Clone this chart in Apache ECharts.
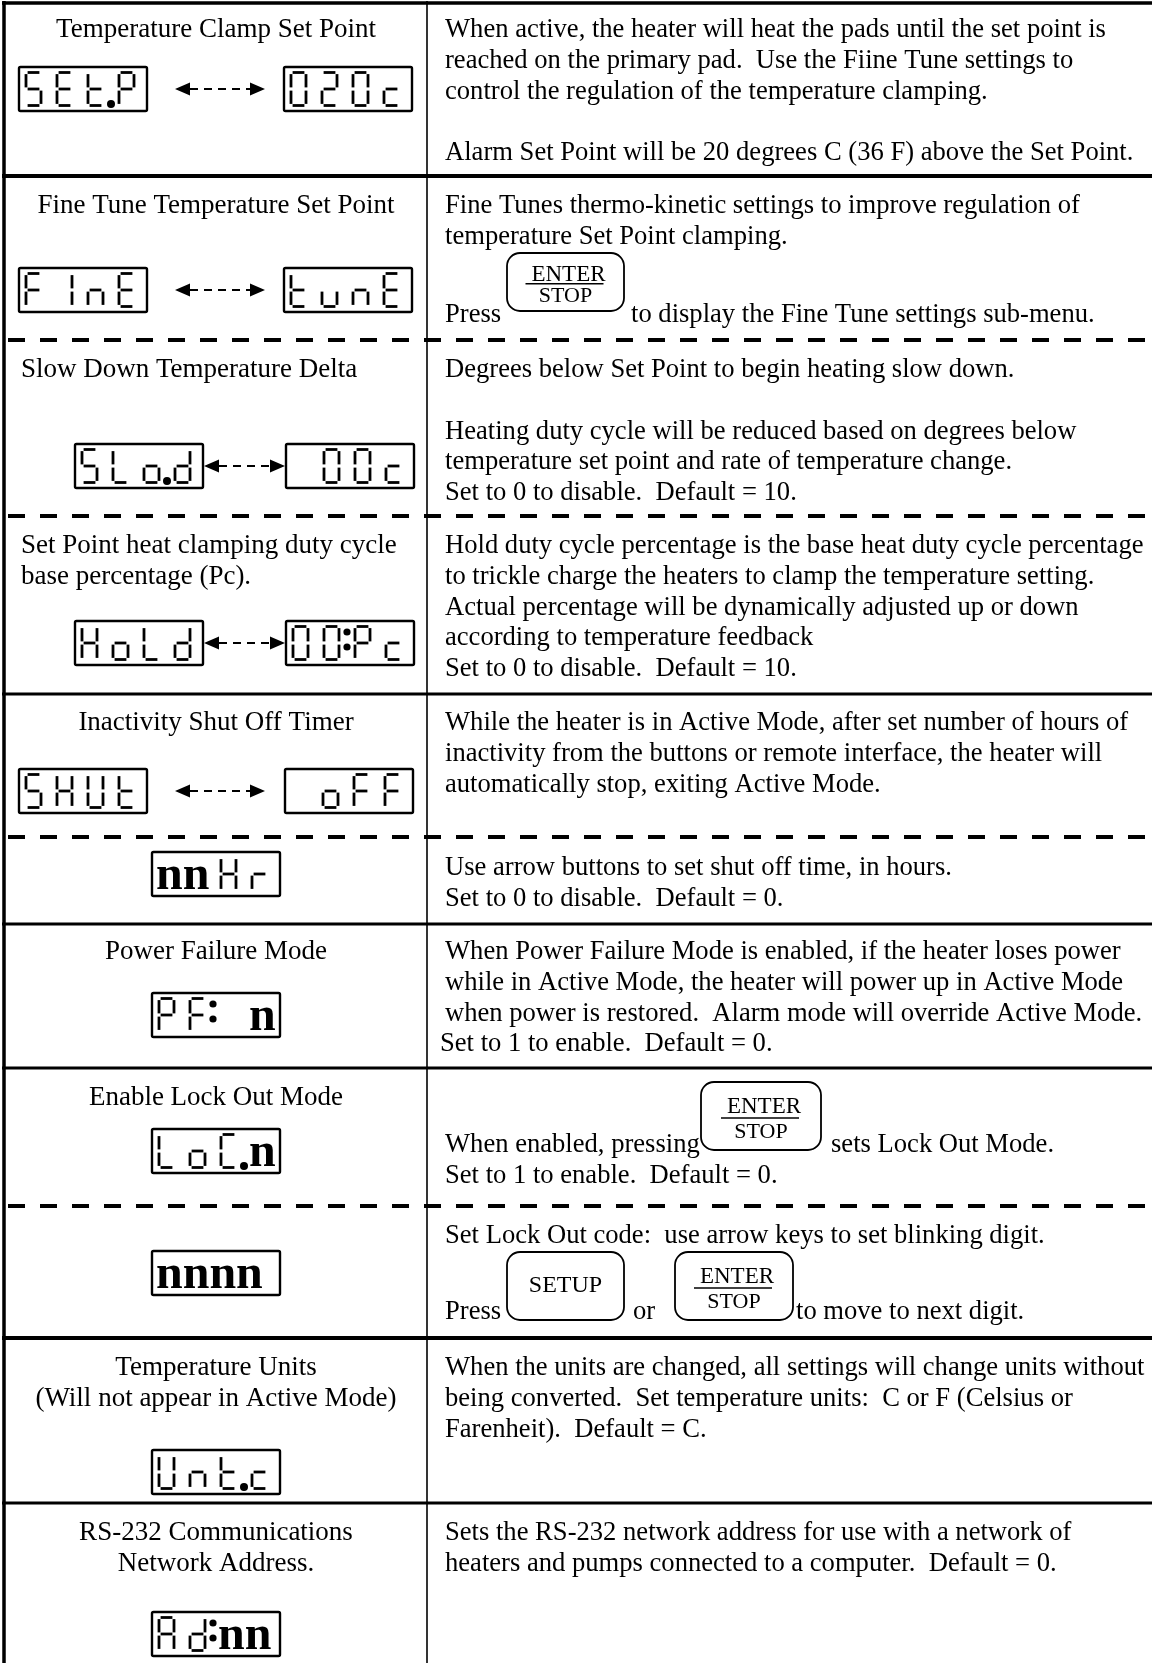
<!DOCTYPE html>
<html><head><meta charset="utf-8">
<script src="https://cdn.jsdelivr.net/npm/echarts@6/dist/echarts.min.js"></script>
<style>html,body{margin:0;padding:0;background:#fff}#c{width:1152px;height:1663px}</style>
</head><body><div id="c"></div>
<script>
// ---------------- content ----------------
const leftTitles = [
  ['Temperature Clamp Set Point'],
  ['Fine Tune Temperature Set Point'],
  ['Slow Down Temperature Delta'],
  ['Set Point heat clamping duty cycle', 'base percentage (Pc).'],
  ['Inactivity Shut Off Timer'],
  [],
  ['Power Failure Mode'],
  ['Enable Lock Out Mode'],
  [],
  ['Temperature Units', '(Will not appear in Active Mode)'],
  ['RS-232 Communications', 'Network Address.']
];
const rightTexts = [
  ['When active, the heater will heat the pads until the set point is',
   'reached on the primary pad.  Use the Fiine Tune settings to',
   'control the regulation of the temperature clamping.', '',
   'Alarm Set Point will be 20 degrees C (36 F) above the Set Point.'],
  ['Fine Tunes thermo-kinetic settings to improve regulation of',
   'temperature Set Point clamping.'],
  ['Degrees below Set Point to begin heating slow down.', '',
   'Heating duty cycle will be reduced based on degrees below',
   'temperature set point and rate of temperature change.',
   'Set to 0 to disable.  Default = 10.'],
  ['Hold duty cycle percentage is the base heat duty cycle percentage',
   'to trickle charge the heaters to clamp the temperature setting.',
   'Actual percentage will be dynamically adjusted up or down',
   'according to temperature feedback',
   'Set to 0 to disable.  Default = 10.'],
  ['While the heater is in Active Mode, after set number of hours of',
   'inactivity from the buttons or remote interface, the heater will',
   'automatically stop, exiting Active Mode.'],
  ['Use arrow buttons to set shut off time, in hours.',
   'Set to 0 to disable.  Default = 0.'],
  ['When Power Failure Mode is enabled, if the heater loses power',
   'while in Active Mode, the heater will power up in Active Mode',
   'when power is restored.  Alarm mode will override Active Mode.'],
  [],
  ['Set Lock Out code:  use arrow keys to set blinking digit.'],
  ['When the units are changed, all settings will change units without',
   'being converted.  Set temperature units:  C or F (Celsius or',
   'Farenheit).  Default = C.'],
  ['Sets the RS-232 network address for use with a network of',
   'heaters and pumps connected to a computer.  Default = 0.']
];
// free-standing lines (some with buttons between the pieces)
const inlineTexts = [
  ['Press', 'to display the Fine Tune settings sub-menu.'],
  ['Set to 1 to enable.  Default = 0.'],
  ['When enabled, pressing', 'sets Lock Out Mode.'],
  ['Set to 1 to enable.  Default = 0.'],
  ['Press', 'or', 'to move to next digit.']
];
const buttonLabels = [
  ['ENTER', 'STOP'],   // row 2
  ['ENTER', 'STOP'],   // row 8
  ['SETUP'],           // row 9
  ['ENTER', 'STOP']    // row 9
];
// display codes per row: first box, optional second box
// '_' blank cell, '.' decimal point, ':' colon after cell, '*' bold glyph text
const displayCodes = [
  [['S', 'E', 't.', 'P'], ['0', '2', '0', 'c']],
  [['F', 'I', 'n', 'E'], ['t', 'u', 'n', 'E']],
  [['S', 'L', 'o.', 'd'], ['_', '0', '0', 'c']],
  [['H', 'o', 'L', 'd'], ['0', '0:', 'P', 'c']],
  [['S', 'H', 'U', 't'], ['_', 'o', 'F', 'F']],
  [['*nn', 'H', 'r']],
  [['P', 'F:', '_', '*n']],
  [['L', 'o', 'C.', '*n']],
  [['*nnnn']],
  [['U', 'n', 't.', 'c']],
  [['A', 'd:', '*nn']]
];
// seven-segment glyph table
const SEGMENTS = {
  '0': 'abcdef', '2': 'abdeg', 'S': 'acdfg', 'E': 'adefg', 't': 'defg', 'P': 'abefg',
  'c': 'deg', 'F': 'aefg', 'I': 'bc', 'n': 'ceg', 'u': 'cde', 'L': 'def', 'o': 'cdeg',
  'd': 'bcdeg', 'H': 'bcefg', 'U': 'bcdef', 'r': 'eg', 'A': 'abcefg', 'C': 'adef'
};

// ---------------- layout ----------------
const W = 1152;
const COL_X = 427;
const LEFT_X = 4;
const RIGHT_TX = 445;
const LINE_H = 30.8;
const rowRules = [ // y, kind, width
  [3, 'solid', 3.5], [176, 'solid', 4], [340, 'dash', 4], [516, 'dash', 4], [694, 'solid', 3],
  [837, 'dash', 4], [924, 'solid', 3], [1068, 'solid', 3], [1206, 'dash', 4],
  [1338, 'solid', 4], [1503, 'solid', 3]
];
const titleY = [30, 206, 370, 546, 723, null, 952, 1098, null, 1368, 1533];
const titleAlign = ['center', 'center', 'left', 'left', 'center', 'center', 'center', 'center', 'center', 'center', 'center'];
const textY = [30, 206, 370, 546, 723, 868, 952, 0, 1236, 1368, 1533];
const inlineLayout = [
  {y: 315, xs: [445, 631]},
  {y: 1044, xs: [440]},
  {y: 1145, xs: [445, 831]},
  {y: 1176, xs: [445]},
  {y: 1312, xs: [445, 633, 796]}
];
const buttonLayout = [
  {x: 507, y: 253, w: 117, h: 58},
  {x: 701, y: 1082, w: 120, h: 68},
  {x: 507, y: 1252, w: 117, h: 68},
  {x: 675, y: 1252, w: 118, h: 68}
];
const boxCY = [89, 290, 466, 643, 791, 874, 1015, 1151, 1273, 1472, 1634];
const boxXs = [[19, 284], [19, 284], [75, 286], [75, 286], [19, 285], [152], [152], [152], [152], [152], [152]];
const arrowXs = [[175, 265], [175, 265], [204, 285], [204, 285], [175, 265]];
const BOX_W = 128, BOX_H = 44;

const FONT = '"Liberation Serif", "Times New Roman", serif';
const FS_L = 27, FS_R = 26.6;
const els = [];

function txt(x, y, s, size, align, weight, sx) {
  els.push({
    type: 'text', x: x, y: y, scaleX: sx || 1, silent: true,
    style: {
      text: s, x: 0, y: 0, fill: '#000',
      font: (weight || 'normal') + ' ' + size + 'px ' + FONT,
      textAlign: align || 'left', textVerticalAlign: 'middle',
      align: align || 'left', verticalAlign: 'middle'
    }
  });
}
function line(x1, y1, x2, y2, w, dash) {
  els.push({
    type: 'line', silent: true,
    shape: {x1: x1, y1: y1, x2: x2, y2: y2},
    style: {stroke: '#000', lineWidth: w, lineDash: dash || null, lineCap: 'butt'}
  });
}

// table rules
rowRules.forEach(function (r) {
  if (r[1] === 'solid') line(LEFT_X - 2, r[0], W, r[0], r[2]);
  else line(LEFT_X + 4, r[0], W, r[0], r[2], [17, 15]);
});
line(LEFT_X, 1, LEFT_X, 1663, 3.5);
line(COL_X, 1, COL_X, 1663, 1.6);

// left titles
leftTitles.forEach(function (lines, i) {
  lines.forEach(function (s, k) {
    const y = titleY[i] + k * LINE_H;
    if (titleAlign[i] === 'left') txt(21, y, s, FS_L, 'left');
    else txt(216, y, s, FS_L, 'center');
  });
});
// right texts
rightTexts.forEach(function (lines, i) {
  lines.forEach(function (s, k) {
    if (s) txt(RIGHT_TX, textY[i] + k * LINE_H, s, FS_R, 'left');
  });
});
inlineTexts.forEach(function (pieces, j) {
  const L = inlineLayout[j];
  pieces.forEach(function (s, k) { txt(L.xs[k], L.y, s, FS_R, 'left'); });
});
// buttons
buttonLabels.forEach(function (labels, j) {
  const b = buttonLayout[j];
  els.push({type: 'rect', silent: true, shape: {x: b.x, y: b.y, width: b.w, height: b.h, r: 13},
    style: {fill: 'none', stroke: '#000', lineWidth: 1.8}});
  const cx = b.x + b.w / 2;
  if (labels.length === 1) {
    txt(cx, b.y + b.h * 0.5, labels[0], 24, 'center');
  } else {
    txt(cx + 3, b.y + b.h * 0.37, labels[0], 23, 'center');
    line(cx - 40, b.y + b.h * 0.53, cx + 38, b.y + b.h * 0.53, 1.6);
    txt(cx, b.y + b.h * 0.745, labels[1], 22, 'center');
  }
});

// seven segment displays
const PITCH = 31, DW = 15, DH = 33, G = 1.6, SW = 2.8;
function digit(x0, top, ch) {
  const segs = SEGMENTS[ch] || '';
  const m = top + DH / 2, b = top + DH;
  const def = {
    a: [x0 + G, top, x0 + DW - G, top], b: [x0 + DW, top + G, x0 + DW, m - G],
    c: [x0 + DW, m + G, x0 + DW, b - G], d: [x0 + G, b, x0 + DW - G, b],
    e: [x0, m + G, x0, b - G], f: [x0, top + G, x0, m - G], g: [x0 + G, m, x0 + DW - G, m]
  };
  for (const s of segs) { const p = def[s]; line(p[0], p[1], p[2], p[3], SW); }
}
function dot(cx, cy, r) {
  els.push({type: 'circle', silent: true, shape: {cx: cx, cy: cy, r: r}, style: {fill: '#000'}});
}
function display(bx, cy, tokens) {
  const by = cy - BOX_H / 2;
  els.push({type: 'rect', silent: true, shape: {x: bx, y: by, width: BOX_W, height: BOX_H, r: 1.5},
    style: {fill: 'none', stroke: '#000', lineWidth: 2.4}});
  const top = by + 5.5;
  let ci = 0;
  tokens.forEach(function (tk) {
    const x0 = bx + 7 + ci * PITCH;
    if (tk[0] === '*') {
      const s = tk.slice(1);
      txt(x0 - 3, by + BOX_H - 19, s, 48, 'left', 'bold');
      ci += s.length;
      return;
    }
    const ch = tk[0];
    if (ch !== '_') digit(x0, top, ch);
    if (tk.indexOf('.') > 0) dot(x0 + DW + 8, top + DH - 1.5, 4);
    if (tk.indexOf(':') > 0) { dot(x0 + DW + 8, by + 11, 3.6); dot(x0 + DW + 8, by + 26, 3.6); }
    ci += 1;
  });
}
function arrow(x1, x2, y) {
  els.push({type: 'polygon', silent: true, shape: {points: [[x1, y], [x1 + 15, y - 6.5], [x1 + 15, y + 6.5]]}, style: {fill: '#000'}});
  els.push({type: 'polygon', silent: true, shape: {points: [[x2, y], [x2 - 15, y - 6.5], [x2 - 15, y + 6.5]]}, style: {fill: '#000'}});
  line(x1 + 15, y, x2 - 15, y, 2.2, [8, 6]);
}
displayCodes.forEach(function (boxes, i) {
  boxes.forEach(function (tokens, k) { display(boxXs[i][k], boxCY[i], tokens); });
  if (boxes.length > 1) arrow(arrowXs[i][0], arrowXs[i][1], boxCY[i]);
});

const chart = echarts.init(document.getElementById('c'), null, {renderer: 'canvas'});
chart.setOption({backgroundColor: '#fff', animation: false, graphic: {elements: els}});
</script>
</body></html>
